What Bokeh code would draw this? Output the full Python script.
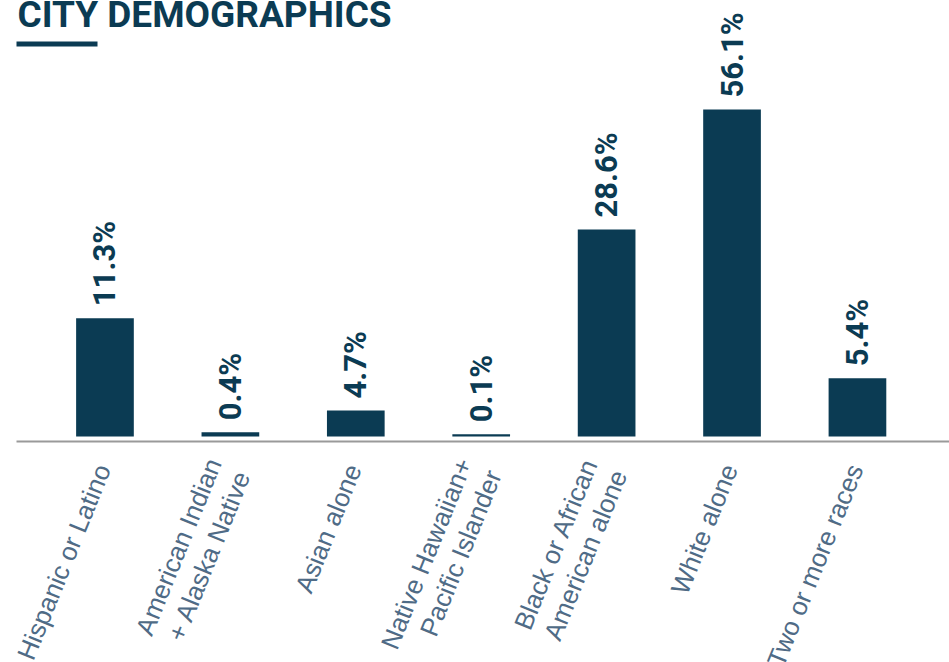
import math
from bokeh.plotting import figure
from bokeh.models import Range1d, Label, BoxAnnotation, ColumnDataSource
from bokeh.core.properties import value
from bokeh.embed import file_html
from bokeh.resources import INLINE

# ---- data ----
categories = [
    "Hispanic or Latino",
    "American Indian\n+ Alaska Native",
    "Asian alone",
    "Native Hawaiian+\nPacific Islander",
    "Black or African\nAmerican alone",
    "White alone",
    "Two or more races",
]
pct_labels = ["11.3%", "0.4%", "4.7%", "0.1%", "28.6%", "56.1%", "5.4%"]
# bar heights as drawn in the picture (scaled so the tallest bar = 56.1)
bar_heights = [20.3, 0.74, 4.46, 0.39, 35.5, 56.1, 10.0]

DARK = "#0b3b53"
LABEL = "#4f6b86"
AXIS = "#9a9a9a"

X0, X1 = -0.833, 6.734
Y0, Y1 = -38.77, 74.80

xs = list(range(len(categories)))
src = ColumnDataSource(dict(x=xs, top=bar_heights, lab=pct_labels))
cat_src = ColumnDataSource(dict(x=xs, y=[0] * len(xs), cat=categories))

p = figure(
    width=949, height=662,
    output_backend="svg", toolbar_location=None,
    x_range=Range1d(X0, X1),
    y_range=Range1d(Y0, Y1),
    x_axis_location=None, y_axis_location=None,
    min_border_left=0, min_border_right=0, min_border_top=0, min_border_bottom=0,
)
p.outline_line_color = None
p.xgrid.visible = False
p.ygrid.visible = False
p.background_fill_color = "white"
p.border_fill_color = "white"

p.vbar(x="x", top="top", bottom=0, width=0.46, source=src,
       fill_color=DARK, line_color=None)

# baseline rule under the bars (screen units, measured from the frame's bottom-left)
axis_rule = BoxAnnotation(left=16, top=222, bottom=220,
                          left_units="screen", top_units="screen", bottom_units="screen",
                          fill_color=AXIS, fill_alpha=1.0, line_color=None)
p.add_layout(axis_rule)

p.text(x="x", y="top", text="lab", source=src, angle=math.pi / 2,
       text_align="left", text_baseline="middle", y_offset=-12,
       text_font=value("Roboto"), text_font_style="bold",
       text_font_size="31px", text_color=DARK)

p.text(x="x", y="y", text="cat", source=cat_src, angle=math.radians(68),
       text_align="right", text_baseline="middle",
       x_offset=-2, y_offset=29,
       text_font=value("Liberation Sans"), text_font_size="26px",
       text_line_height=1.05, text_color=LABEL)

title = Label(x=X0, y=Y1, x_units="data", y_units="data",
              x_offset=17, y_offset=-14, text="CITY DEMOGRAPHICS",
              text_font="Roboto", text_font_style="bold",
              text_font_size="37px", text_color=DARK,
              text_align="left", text_baseline="alphabetic")
p.add_layout(title)

underline = BoxAnnotation(left=16, right=97, top=621, bottom=616,
                          left_units="screen", right_units="screen",
                          top_units="screen", bottom_units="screen",
                          fill_color=DARK, fill_alpha=1.0, line_color=None)
p.add_layout(underline)

open("out.html", "w").write(file_html(p, INLINE))
